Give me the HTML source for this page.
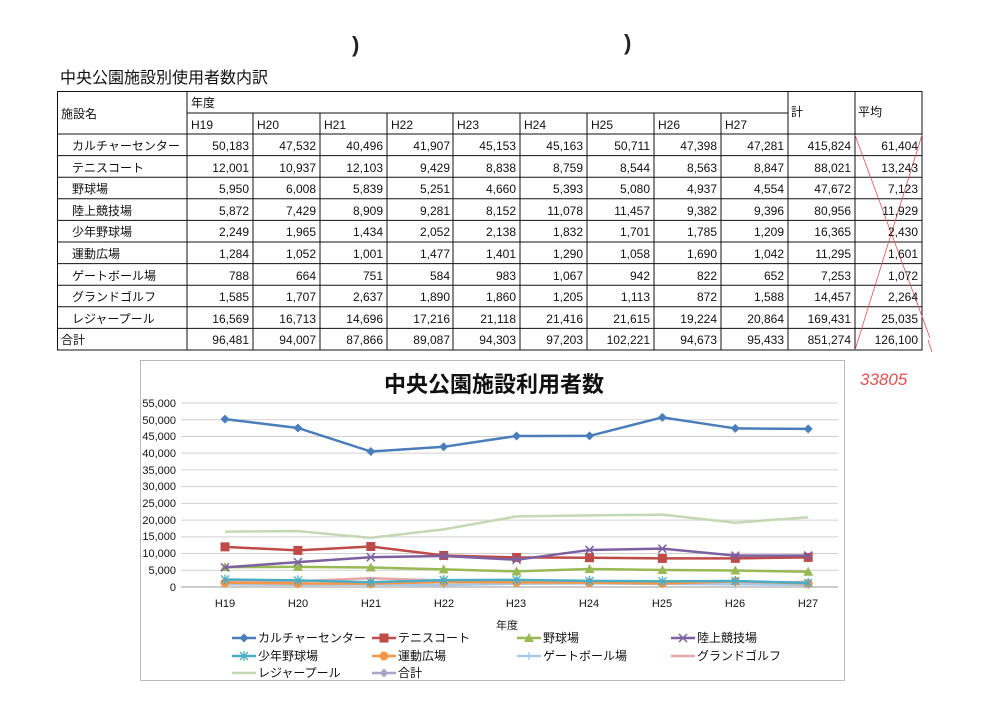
<!DOCTYPE html>
<html><head><meta charset="utf-8"><style>
html,body{margin:0;padding:0;background:#fff;}
svg{display:block;font-family:"Liberation Sans","Noto Sans CJK JP",sans-serif;}
</style></head><body>
<svg id="s" width="1000" height="708" viewBox="0 0 1000 708" xmlns="http://www.w3.org/2000/svg">
<rect width="1000" height="708" fill="#fff"/>
<text x="352" y="52" font-size="22" font-weight="bold" fill="#222">)</text>
<text x="624" y="50" font-size="22" font-weight="bold" fill="#222">)</text>
<text x="60" y="83" font-size="16" fill="#111">中央公園施設別使用者数内訳</text>
<g id="tbl" stroke="#111" stroke-width="1" fill="none"></g>
<g id="ttext" font-size="12" fill="#111">
<text x="61" y="118">施設名</text>
<text x="191" y="107">年度</text>
<text x="791" y="116">計</text>
<text x="858" y="116">平均</text>
<text x="191" y="129">H19</text><text x="257" y="129">H20</text><text x="324" y="129">H21</text><text x="391" y="129">H22</text><text x="457" y="129">H23</text><text x="524" y="129">H24</text><text x="591" y="129">H25</text><text x="658" y="129">H26</text><text x="725" y="129">H27</text>
</g>
<path d="M855 135 L930 338 M922 135 L855 350 M928 340 L932 352" stroke="#e05050" stroke-width="0.8" fill="none"/>
<text x="860" y="385" font-size="17" fill="#e05050" font-style="italic">33805</text>
<rect x="140.5" y="360.5" width="704" height="320" fill="#fff" stroke="#bbb"/>
<text x="494" y="392" font-size="22" font-weight="bold" text-anchor="middle" fill="#111">中央公園施設利用者数</text>
<g id="grid" stroke="#d0d0d0" stroke-width="1"></g>
<g font-size="11" fill="#111" text-anchor="end">
<text x="176" y="407">55,000</text><text x="176" y="424">50,000</text><text x="176" y="440">45,000</text><text x="176" y="457">40,000</text><text x="176" y="474">35,000</text><text x="176" y="490">30,000</text><text x="176" y="507">25,000</text><text x="176" y="524">20,000</text><text x="176" y="540">15,000</text><text x="176" y="557">10,000</text><text x="176" y="574">5,000</text><text x="176" y="591">0</text>
</g>
<g font-size="11" fill="#111" text-anchor="middle">
<text x="225" y="607">H19</text><text x="298" y="607">H20</text><text x="371" y="607">H21</text><text x="444" y="607">H22</text><text x="516" y="607">H23</text><text x="589" y="607">H24</text><text x="662" y="607">H25</text><text x="735" y="607">H26</text><text x="808" y="607">H27</text>
<text x="507" y="629">年度</text>
</g>
<g id="series"></g>
<g id="legend"></g>
<g font-size="12" fill="#111">
<text x="258" y="642">カルチャーセンター</text>
<text x="398" y="642">テニスコート</text>
<text x="543" y="642">野球場</text>
<text x="697" y="642">陸上競技場</text>
<text x="258" y="660">少年野球場</text>
<text x="398" y="660">運動広場</text>
<text x="543" y="660">ゲートボール場</text>
<text x="697" y="660">グランドゴルフ</text>
<text x="258" y="677">レジャープール</text>
<text x="398" y="677">合計</text>
</g>
<g id="rowtext" font-size="12" fill="#111">
<text x="72" y="150">カルチャーセンター</text>
<text x="72" y="172">テニスコート</text>
<text x="72" y="193">野球場</text>
<text x="72" y="215">陸上競技場</text>
<text x="72" y="236">少年野球場</text>
<text x="72" y="258">運動広場</text>
<text x="72" y="280">ゲートボール場</text>
<text x="72" y="301">グランドゴルフ</text>
<text x="72" y="323">レジャープール</text>
<text x="61" y="344">合計</text>
</g>
<g id="nums" font-size="12" fill="#111" text-anchor="end">
<text x="249" y="150">50,183</text><text x="316" y="150">47,532</text><text x="383" y="150">40,496</text><text x="450" y="150">41,907</text><text x="516" y="150">45,153</text><text x="583" y="150">45,163</text><text x="650" y="150">50,711</text><text x="717" y="150">47,398</text><text x="784" y="150">47,281</text><text x="851" y="150">415,824</text><text x="918" y="150">61,404</text>
<text x="249" y="172">12,001</text><text x="316" y="172">10,937</text><text x="383" y="172">12,103</text><text x="450" y="172">9,429</text><text x="516" y="172">8,838</text><text x="583" y="172">8,759</text><text x="650" y="172">8,544</text><text x="717" y="172">8,563</text><text x="784" y="172">8,847</text><text x="851" y="172">88,021</text><text x="918" y="172">13,243</text>
<text x="249" y="193">5,950</text><text x="316" y="193">6,008</text><text x="383" y="193">5,839</text><text x="450" y="193">5,251</text><text x="516" y="193">4,660</text><text x="583" y="193">5,393</text><text x="650" y="193">5,080</text><text x="717" y="193">4,937</text><text x="784" y="193">4,554</text><text x="851" y="193">47,672</text><text x="918" y="193">7,123</text>
<text x="249" y="215">5,872</text><text x="316" y="215">7,429</text><text x="383" y="215">8,909</text><text x="450" y="215">9,281</text><text x="516" y="215">8,152</text><text x="583" y="215">11,078</text><text x="650" y="215">11,457</text><text x="717" y="215">9,382</text><text x="784" y="215">9,396</text><text x="851" y="215">80,956</text><text x="918" y="215">11,929</text>
<text x="249" y="236">2,249</text><text x="316" y="236">1,965</text><text x="383" y="236">1,434</text><text x="450" y="236">2,052</text><text x="516" y="236">2,138</text><text x="583" y="236">1,832</text><text x="650" y="236">1,701</text><text x="717" y="236">1,785</text><text x="784" y="236">1,209</text><text x="851" y="236">16,365</text><text x="918" y="236">2,430</text>
<text x="249" y="258">1,284</text><text x="316" y="258">1,052</text><text x="383" y="258">1,001</text><text x="450" y="258">1,477</text><text x="516" y="258">1,401</text><text x="583" y="258">1,290</text><text x="650" y="258">1,058</text><text x="717" y="258">1,690</text><text x="784" y="258">1,042</text><text x="851" y="258">11,295</text><text x="918" y="258">1,601</text>
<text x="249" y="280">788</text><text x="316" y="280">664</text><text x="383" y="280">751</text><text x="450" y="280">584</text><text x="516" y="280">983</text><text x="583" y="280">1,067</text><text x="650" y="280">942</text><text x="717" y="280">822</text><text x="784" y="280">652</text><text x="851" y="280">7,253</text><text x="918" y="280">1,072</text>
<text x="249" y="301">1,585</text><text x="316" y="301">1,707</text><text x="383" y="301">2,637</text><text x="450" y="301">1,890</text><text x="516" y="301">1,860</text><text x="583" y="301">1,205</text><text x="650" y="301">1,113</text><text x="717" y="301">872</text><text x="784" y="301">1,588</text><text x="851" y="301">14,457</text><text x="918" y="301">2,264</text>
<text x="249" y="323">16,569</text><text x="316" y="323">16,713</text><text x="383" y="323">14,696</text><text x="450" y="323">17,216</text><text x="516" y="323">21,118</text><text x="583" y="323">21,416</text><text x="650" y="323">21,615</text><text x="717" y="323">19,224</text><text x="784" y="323">20,864</text><text x="851" y="323">169,431</text><text x="918" y="323">25,035</text>
<text x="249" y="344">96,481</text><text x="316" y="344">94,007</text><text x="383" y="344">87,866</text><text x="450" y="344">89,087</text><text x="516" y="344">94,303</text><text x="583" y="344">97,203</text><text x="650" y="344">102,221</text><text x="717" y="344">94,673</text><text x="784" y="344">95,433</text><text x="851" y="344">851,274</text><text x="918" y="344">126,100</text>
</g>
</svg>
<script>
var NS="http://www.w3.org/2000/svg";
function el(p,t,a){var e=document.createElementNS(NS,t);for(var k in a)e.setAttribute(k,a[k]);p.appendChild(e);return e;}
var tbl=document.getElementById('tbl');
var cols=[57,187,253,320,387,453,520,587,654,721,788,855,922];
var h1=113,h2=134,bot=350;
el(tbl,'rect',{x:57.5,y:91.5,width:864.5,height:258.5});
el(tbl,'line',{x1:187,y1:91,x2:187,y2:bot});
el(tbl,'line',{x1:788,y1:91,x2:788,y2:bot});
el(tbl,'line',{x1:855,y1:91,x2:855,y2:bot});
el(tbl,'line',{x1:187,y1:h1,x2:788,y2:h1});
for(var i=2;i<10;i++)el(tbl,'line',{x1:cols[i],y1:h1,x2:cols[i],y2:bot});
for(var r=0;r<10;r++){var y=h2+r*21.6;el(tbl,'line',{x1:57,y1:y,x2:922,y2:y});}
var g=document.getElementById('grid');
function Y(v){return 587-v/55000*184;}
for(var v=0;v<=55000;v+=5000)el(g,'line',{x1:181,y1:Y(v),x2:838,y2:Y(v),stroke:v==0?'#999':'#d0d0d0'});
function X(i){return 225+i*72.9;}
var data=[
["#c4d8b4","none",[16569,16713,14696,17216,21118,21416,21615,19224,20864]],
["#e8a8a8","none",[1585,1707,2637,1890,1860,1205,1113,872,1588]],
["#a8c8e8","plus",[788,664,751,584,983,1067,942,822,652]],
["#f79646","circle",[1284,1052,1001,1477,1401,1290,1058,1690,1042]],
["#4bacc6","star",[2249,1965,1434,2052,2138,1832,1701,1785,1209]],
["#98b954","tri",[5950,6008,5839,5251,4660,5393,5080,4937,4554]],
["#be4b48","sq",[12001,10937,12103,9429,8838,8759,8544,8563,8847]],
["#7d60a0","x",[5872,7429,8909,9281,8152,11078,11457,9382,9396]],
["#4a7ebb","dia",[50183,47532,40496,41907,45153,45163,50711,47398,47281]]
];
function marker(p,m,x,y,c){
 if(m=="dia")el(p,'path',{d:"M"+x+" "+(y-4.5)+"L"+(x+4.5)+" "+y+"L"+x+" "+(y+4.5)+"L"+(x-4.5)+" "+y+"Z",fill:c});
 else if(m=="sq")el(p,'rect',{x:x-4.5,y:y-4.5,width:9,height:9,fill:c});
 else if(m=="tri")el(p,'path',{d:"M"+x+" "+(y-5)+"L"+(x+5)+" "+(y+4)+"L"+(x-5)+" "+(y+4)+"Z",fill:c});
 else if(m=="circle")el(p,'circle',{cx:x,cy:y,r:4.5,fill:c});
 else if(m=="x")el(p,'path',{d:"M"+(x-4)+" "+(y-4)+"L"+(x+4)+" "+(y+4)+"M"+(x+4)+" "+(y-4)+"L"+(x-4)+" "+(y+4),stroke:c,"stroke-width":1.5});
 else if(m=="star")el(p,'path',{d:"M"+(x-4)+" "+(y-4)+"L"+(x+4)+" "+(y+4)+"M"+(x+4)+" "+(y-4)+"L"+(x-4)+" "+(y+4)+"M"+x+" "+(y-5)+"L"+x+" "+(y+5),stroke:c,"stroke-width":1.3});
 else if(m=="plus")el(p,'path',{d:"M"+(x-4)+" "+y+"L"+(x+4)+" "+y+"M"+x+" "+(y-4)+"L"+x+" "+(y+4),stroke:c,"stroke-width":1.3});
}
var s=document.getElementById('series');
data.forEach(function(d){
 var pts=d[2].map(function(v,i){return X(i)+","+Y(v);}).join(" ");
 el(s,'polyline',{points:pts,fill:"none",stroke:d[0],"stroke-width":2.5});
 d[2].forEach(function(v,i){marker(s,d[1],X(i),Y(v),d[0]);});
});
var L=document.getElementById('legend');
var leg=[[232,638,"#4a7ebb","dia"],[372,638,"#be4b48","sq"],[517,638,"#98b954","tri"],[671,638,"#7d60a0","x"],
[232,656,"#4bacc6","star"],[372,656,"#f79646","circle"],[517,656,"#a8c8e8","plus"],[671,656,"#e8a8a8","none"],
[232,673,"#c4d8b4","none"],[372,673,"#a5a5c8","dia"]];
leg.forEach(function(l){el(L,'line',{x1:l[0],y1:l[1],x2:l[0]+24,y2:l[1],stroke:l[2],"stroke-width":2.5});marker(L,l[3],l[0]+12,l[1],l[2]);});
</script>
</body></html>
